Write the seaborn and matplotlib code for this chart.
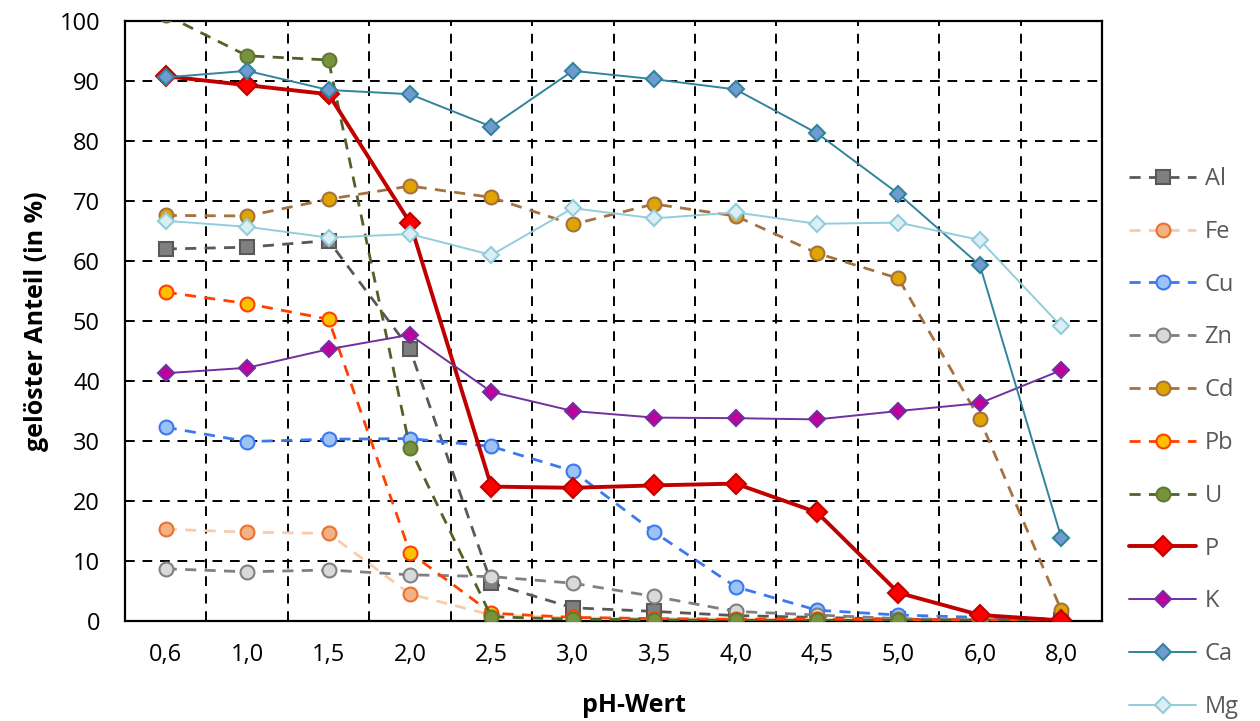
import matplotlib
matplotlib.use("Agg")
import matplotlib.pyplot as plt
import seaborn as sns
import numpy as np
import pandas as pd
from matplotlib.ticker import FixedLocator, MultipleLocator

# ---------------- data ----------------
ph_labels = ["0,6", "1,0", "1,5", "2,0", "2,5", "3,0", "3,5", "4,0", "4,5", "5,0", "6,0", "8,0"]

Al = [62.0, 62.3, 63.4, 45.3, 6.3, 2.2, 1.6, 0.9, 0.6, 0.3, 0.2, 0.1]
Fe = [15.3, 14.8, 14.6, 4.5, 1.0, 0.5, 0.4, 0.3, 0.3, 0.2, 0.2, 0.1]
Cu = [32.3, 29.9, 30.3, 30.4, 29.1, 25.0, 14.8, 5.7, 1.8, 1.0, 0.6, 0.3]
Zn = [8.7, 8.2, 8.5, 7.7, 7.4, 6.3, 4.1, 1.6, 1.0, 0.4, 0.2, 0.1]
Cd = [67.6, 67.5, 70.3, 72.5, 70.6, 66.1, 69.5, 67.5, 61.3, 57.1, 33.6, 1.8]
Pb = [54.8, 52.9, 50.3, 11.4, 1.3, 0.6, 0.4, 0.3, 0.3, 0.2, 0.2, 0.1]
U = [101.0, 94.2, 93.5, 28.8, 0.7, 0.3, 0.2, 0.1, 0.1, 0.1, 0.1, 0.1]
P = [90.8, 89.3, 87.8, 66.4, 22.4, 22.2, 22.6, 22.9, 18.1, 4.7, 1.0, 0.1]
K = [41.3, 42.2, 45.3, 47.7, 38.2, 35.0, 33.9, 33.8, 33.6, 35.0, 36.3, 41.8]
Ca = [90.6, 91.7, 88.5, 87.8, 82.4, 91.7, 90.3, 88.6, 81.3, 71.2, 59.3, 13.9]
Mg = [66.7, 65.7, 63.9, 64.5, 61.0, 68.8, 67.1, 68.1, 66.2, 66.4, 63.5, 49.1]

series_names = ["Al", "Fe", "Cu", "Zn", "Cd", "Pb", "U", "P", "K", "Ca", "Mg"]
series_values = [Al, Fe, Cu, Zn, Cd, Pb, U, P, K, Ca, Mg]

# ---------------- styles ----------------
DASH = (0, (4, 3))
styles = {
    "Al": dict(color="#595959", ls=DASH, lw=2.0, marker="s", ms=10, mfc="#7f7f7f", mec="#595959"),
    "Fe": dict(color="#f8cbad", ls=DASH, lw=2.0, marker="o", ms=10, mfc="#f4b183", mec="#e97132"),
    "Cu": dict(color="#3c78f0", ls=DASH, lw=2.0, marker="o", ms=10, mfc="#9dc3f6", mec="#3c78f0"),
    "Zn": dict(color="#808080", ls=DASH, lw=2.0, marker="o", ms=10, mfc="#d9d9d9", mec="#808080"),
    "Cd": dict(color="#a5723f", ls=DASH, lw=2.0, marker="o", ms=10, mfc="#dfa400", mec="#a5723f"),
    "Pb": dict(color="#ff4000", ls=DASH, lw=2.0, marker="o", ms=10, mfc="#ffc000", mec="#ff4000"),
    "U":  dict(color="#4f6228", ls=DASH, lw=2.0, marker="o", ms=10, mfc="#77933c", mec="#5f7a30"),
    "P":  dict(color="#c00000", ls="-", lw=2.8, marker="D", ms=10.0, mfc="#ff0000", mec="#c00000"),
    "K":  dict(color="#7030a0", ls="-", lw=1.4, marker="D", ms=8.0, mfc="#c0009a", mec="#7030a0"),
    "Ca": dict(color="#31849b", ls="-", lw=1.4, marker="D", ms=8.0, mfc="#6f9bd0", mec="#31849b"),
    "Mg": dict(color="#92cddc", ls="-", lw=1.4, marker="D", ms=8.0, mfc="#daeef3", mec="#92cddc"),
}

sns.set_theme(style="white")
plt.rcParams["font.family"] = ["Open Sans", "DejaVu Sans"]

fig = plt.figure(figsize=(12.6, 7.21), dpi=100)
ax = fig.add_axes([125 / 1260, 1 - 621 / 721, (1102 - 125) / 1260, 600 / 721])

x = np.arange(len(ph_labels))
for name, vals in zip(series_names, series_values):
    st = styles[name]
    df = pd.DataFrame({"x": x, "y": vals})
    sns.lineplot(data=df, x="x", y="y", ax=ax, sort=False, errorbar=None,
                 color=st["color"], linestyle=st["ls"], linewidth=st["lw"],
                 marker=st["marker"], markersize=st["ms"],
                 markerfacecolor=st["mfc"], markeredgecolor=st["mec"],
                 markeredgewidth=1.5, label=name, zorder=3)

ax.set_xlim(-0.5, len(ph_labels) - 0.5)
ax.set_ylim(0, 100)
ax.xaxis.set_major_locator(FixedLocator(x))
ax.set_xticklabels(ph_labels)
ax.xaxis.set_minor_locator(FixedLocator(np.arange(0.5, len(ph_labels) - 1, 1.0)))
ax.yaxis.set_major_locator(MultipleLocator(10))

ax.grid(False)
ax.grid(which="minor", axis="x", color="black", linestyle=(0, (5, 4)), linewidth=1.4, zorder=1)
ax.grid(which="major", axis="y", color="black", linestyle=(0, (5, 4)), linewidth=1.4, zorder=1)
ax.set_axisbelow(True)

for sp in ax.spines.values():
    sp.set_color("black")
    sp.set_linewidth(1.6)

ax.tick_params(axis="both", which="both", length=0, labelsize=17, colors="black")
ax.tick_params(axis="x", pad=16)
ax.tick_params(axis="y", pad=18)

ax.set_xlabel("pH-Wert", fontsize=18, fontweight="bold", color="black")
ax.set_ylabel("gelöster Anteil (in %)", fontsize=18, fontweight="bold", color="black")
ax.xaxis.set_label_coords((634 - 125) / 977, (621 - 718) / 600)
ax.xaxis.label.set_va("bottom")
ax.yaxis.set_label_coords((37 - 125) / 977, 0.5)
ax.yaxis.label.set_va("center")

handles, labels = ax.get_legend_handles_labels()
leg = ax.legend(handles, labels, loc="center left", bbox_to_anchor=(1129 / 1260, 1 - 443 / 721),
                bbox_transform=fig.transFigure, frameon=False, fontsize=17,
                handlelength=2.85, handletextpad=0.35, labelspacing=1.22,
                borderpad=0, borderaxespad=0)
for t in leg.get_texts():
    t.set_color("#595959")

fig.savefig("out.png", dpi=100)
